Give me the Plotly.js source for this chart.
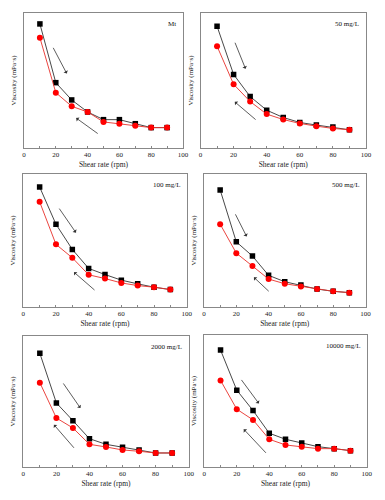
<!DOCTYPE html>
<html><head><meta charset="utf-8">
<script src="https://cdn.plot.ly/plotly-3.0.1.min.js"></script>
<style>html,body{margin:0;padding:0;background:#fff}#c{width:385px;height:500px}</style>
</head><body><div id="c"></div>
<script>
const shear = [10,20,30,40,50,60,70,80,90];
const panelLabels = ["Mt","50 mg/L","100 mg/L","500 mg/L","2000 mg/L","10000 mg/L"];
// increasing shear (black squares)
const upMt    = [91.9,48.4,35.6,26.7,21.0,21.0,18.0,15.1,15.1];
const up50    = [90.2,54.5,38.1,28.0,22.6,18.9,17.0,15.5,13.5];
const up100   = [90.2,62.2,43.3,29.0,24.4,20.2,17.4,14.9,13.1];
const up500   = [88.0,49.0,38.3,23.8,19.0,16.5,13.5,11.8,10.8];
const up2000  = [86.8,48.9,35.4,21.6,17.3,15.0,13.0,10.7,10.7];
const up10000 = [88.6,58.2,42.8,25.6,21.0,18.2,15.4,13.9,12.4];
// decreasing shear (red circles)
const downMt    = [81.7,41.0,30.9,26.7,19.3,18.0,16.5,15.1,15.1];
const down50    = [75.4,47.2,34.4,25.1,21.1,18.2,16.2,14.5,13.5];
const down100   = [79.1,47.1,37.0,24.2,21.4,18.1,16.1,14.9,13.1];
const down500   = [62.3,40.5,30.8,21.0,17.5,15.5,13.5,11.8,10.8];
const down2000  = [64.4,37.4,29.8,17.3,15.3,13.0,12.0,10.7,10.7];
const down10000 = [65.6,43.8,35.7,21.0,16.7,15.4,13.9,13.9,12.4];
// arrows: [tailX, tailY, headX, headY]
const arrowsDown = [[17.9,75.3,26.9,55.1],[20.5,79.1,27.2,58.7],[21.4,75.1,32.2,55.9],[19.0,70.8,26.4,53.0],[23.6,64.9,34.5,45.0],[22.2,67.1,33.6,48.1]];
const arrowsUp   = [[47.3,9.9,32.8,22.2],[34.2,20.1,20.7,34.2],[44.5,11.8,31.0,26.2],[41.0,10.8,30.9,22.3],[31.4,13.5,18.5,32.3],[38.8,9.6,24.3,28.6]];

const ups = [upMt,up50,up100,up500,up2000,up10000];
const downs = [downMt,down50,down100,down500,down2000,down10000];

// pixel boxes [left,right,top,bottom]
const boxes = [[24,183,13,148],[200.5,366,13,148],[23.3,186.7,174,307],[204,365.5,174,307],[23.3,188.7,336,467],[204.3,366.7,335,467]];
const W=385,H=500;
const font = "Liberation Serif, Times New Roman, serif";
const data=[]; const layout={width:W,height:H,margin:{l:0,r:0,t:0,b:0},showlegend:false,
  paper_bgcolor:'#fff',plot_bgcolor:'#fff',font:{family:font,size:7,color:'#222'},annotations:[]};
for(let i=0;i<6;i++){
  const sx = i===0?'':String(i+1);
  const xa='x'+sx, ya='y'+sx;
  data.push({x:shear,y:ups[i],xaxis:xa,yaxis:ya,type:'scatter',mode:'lines+markers',
    line:{color:'#333',width:0.9},marker:{symbol:'square',size:5.5,color:'#000'}});
  data.push({x:shear,y:downs[i],xaxis:xa,yaxis:ya,type:'scatter',mode:'lines+markers',
    line:{color:'#e8302a',width:0.9},marker:{symbol:'circle',size:6,color:'#f00'}});
  const b=boxes[i];
  layout['xaxis'+sx]={domain:[b[0]/W,b[1]/W],anchor:ya,range:[0,100],dtick:20,tick0:0,
    showgrid:false,zeroline:false,showline:true,mirror:true,linecolor:'#888',linewidth:1,
    ticks:'inside',ticklen:2.5,tickcolor:'#888',tickfont:{family:font,size:7,color:'#222'},
    minor:{dtick:10,ticks:'inside',ticklen:2,tickcolor:'#888'},
    title:{text:'Shear rate (rpm)',font:{family:font,size:7.5,color:'#222'},standoff:3}};
  layout['yaxis'+sx]={domain:[1-b[3]/H,1-b[2]/H],anchor:xa,range:[0,100],
    showgrid:false,zeroline:false,showline:true,mirror:true,linecolor:'#888',linewidth:1,
    showticklabels:false,ticks:'',
    title:{text:'Viscosity (mPa·s)',font:{family:font,size:7,color:'#222'},standoff:5}};
  layout.annotations.push({xref:xa+' domain',yref:ya+' domain',x:0.97,y:0.96,xanchor:'right',yanchor:'top',
    text:panelLabels[i],showarrow:false,font:{family:font,size:7,color:'#111'}});
  for(const a of [arrowsDown[i],arrowsUp[i]]){
    layout.annotations.push({xref:xa,yref:ya,axref:xa,ayref:ya,ax:a[0],ay:a[1],x:a[2],y:a[3],
      text:'',showarrow:true,arrowhead:1,arrowsize:1,arrowwidth:0.8,arrowcolor:'#333'});
  }
}
Plotly.newPlot('c',data,layout,{staticPlot:true});
</script></body></html>
